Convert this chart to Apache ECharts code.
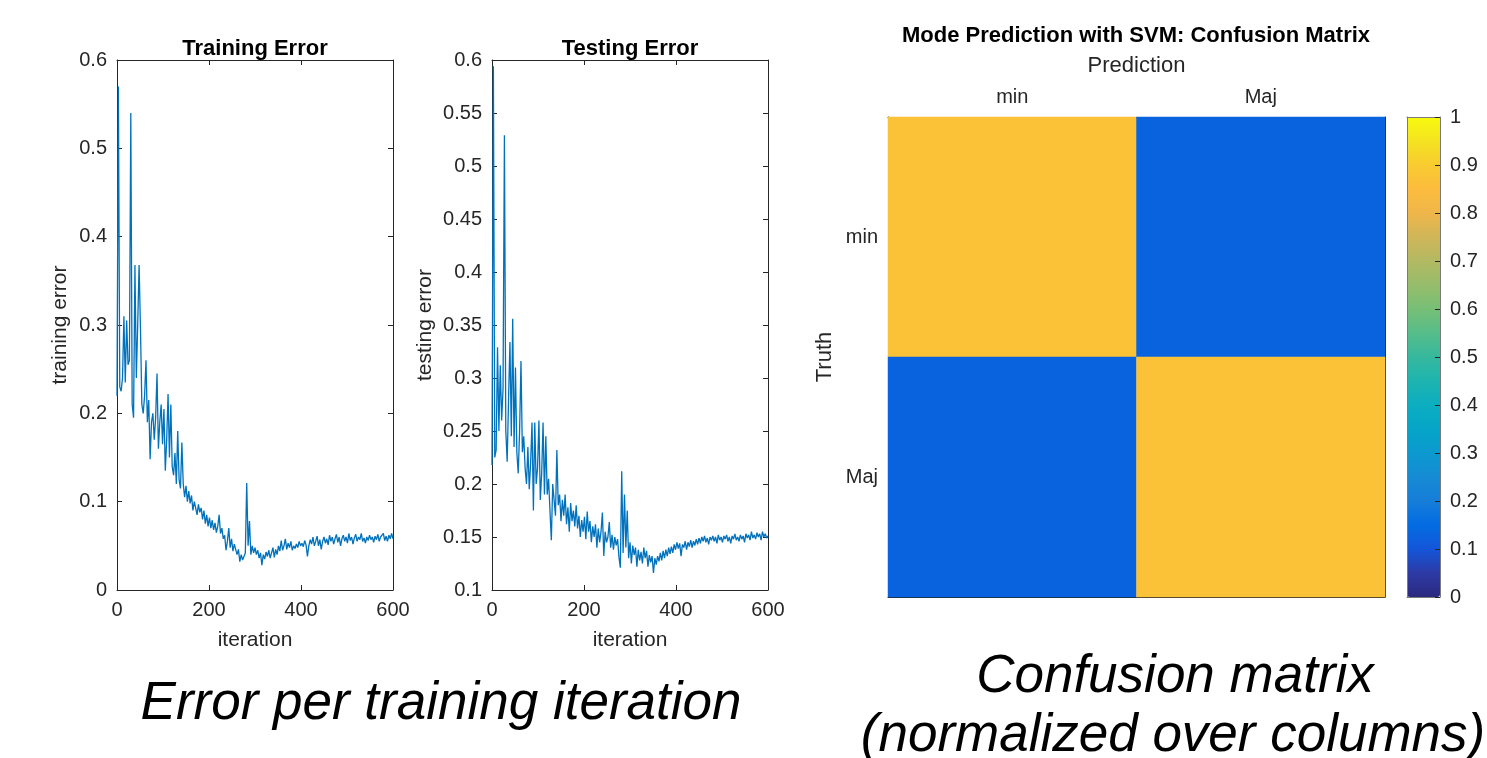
<!DOCTYPE html>
<html>
<head>
<meta charset="utf-8">
<title>SVM mode prediction</title>
<script src="https://cdn.jsdelivr.net/npm/echarts@6/dist/echarts.min.js"></script>
<style>
html, body { margin: 0; padding: 0; background: #fff; }
#main { width: 1487px; height: 758px; }
</style>
</head>
<body>
<div id="main"></div>
<script>
// one sample every 3 iterations, 0..600
var iterStep = 3;
var iterTicks = [0, 600, 200];           // min, max, interval

var trainErr = [
    0.22, 0.57, 0.23, 0.225, 0.24, 0.31, 0.235, 0.305, 0.255, 0.26,
    0.54, 0.21, 0.195, 0.368, 0.24, 0.30, 0.368, 0.297, 0.21, 0.20,
    0.22, 0.26, 0.19, 0.215, 0.148, 0.19, 0.20, 0.17, 0.195, 0.245,
    0.16, 0.19, 0.21, 0.165, 0.205, 0.135, 0.17, 0.222, 0.15, 0.21,
    0.14, 0.13, 0.155, 0.12, 0.18, 0.125, 0.115, 0.167, 0.12, 0.105,
    0.118, 0.10, 0.112, 0.098, 0.107, 0.09, 0.1, 0.093, 0.085, 0.097,
    0.088, 0.093, 0.08, 0.09, 0.075, 0.085, 0.072, 0.082, 0.07, 0.079,
    0.068, 0.076, 0.065, 0.072, 0.085, 0.064, 0.07, 0.058, 0.062, 0.045,
    0.055, 0.07, 0.048, 0.058, 0.044, 0.052, 0.05, 0.04, 0.046, 0.032,
    0.04, 0.034, 0.038, 0.042, 0.121, 0.05, 0.078, 0.04, 0.05, 0.042,
    0.048, 0.04, 0.045, 0.036, 0.042, 0.028, 0.04, 0.035, 0.043, 0.038,
    0.045, 0.036, 0.042, 0.048, 0.037, 0.046, 0.04, 0.05, 0.044, 0.056,
    0.045, 0.05, 0.058, 0.046, 0.053, 0.048, 0.055, 0.045, 0.05, 0.047,
    0.052, 0.048, 0.055, 0.05, 0.053, 0.049, 0.056, 0.051, 0.038, 0.05,
    0.057, 0.052, 0.06, 0.05, 0.055, 0.061, 0.05, 0.057, 0.046, 0.055,
    0.06, 0.053, 0.058, 0.051, 0.062, 0.055, 0.06, 0.052, 0.058, 0.063,
    0.054, 0.06, 0.05, 0.058, 0.062, 0.055, 0.06, 0.053, 0.064, 0.056,
    0.06, 0.052, 0.059, 0.063, 0.055, 0.06, 0.057, 0.064, 0.055, 0.059,
    0.053, 0.06, 0.056, 0.062, 0.057, 0.06, 0.054, 0.061, 0.057, 0.063,
    0.055, 0.06, 0.058, 0.064, 0.056, 0.061, 0.055, 0.062, 0.058, 0.064,
    0.058
];
var trainTicks = [0, 0.6, 0.1];

var testErr = [
    0.218, 0.594, 0.225, 0.232, 0.329, 0.25, 0.312, 0.26, 0.29, 0.529,
    0.25, 0.221, 0.28, 0.334, 0.245, 0.356, 0.235, 0.31, 0.23, 0.21,
    0.25, 0.316, 0.23, 0.245, 0.215, 0.2, 0.235, 0.195, 0.22, 0.258,
    0.175, 0.258, 0.2, 0.215, 0.26, 0.185, 0.21, 0.258, 0.19, 0.245,
    0.19, 0.205, 0.175, 0.147, 0.2, 0.185, 0.17, 0.232, 0.18, 0.19,
    0.165, 0.185, 0.17, 0.19, 0.162, 0.178, 0.155, 0.182, 0.165, 0.175,
    0.16, 0.18, 0.158, 0.17, 0.15, 0.166, 0.155, 0.169, 0.148, 0.174,
    0.155, 0.165, 0.145, 0.16, 0.15, 0.162, 0.14, 0.158, 0.145, 0.155,
    0.173, 0.132, 0.155, 0.145, 0.15, 0.164, 0.14, 0.152, 0.138, 0.15,
    0.142, 0.148, 0.131, 0.121, 0.212, 0.135, 0.19, 0.14, 0.175, 0.13,
    0.145, 0.125, 0.142, 0.133, 0.14, 0.122, 0.138, 0.128, 0.136, 0.125,
    0.14, 0.13, 0.137, 0.122, 0.133, 0.126, 0.132, 0.116, 0.13, 0.124,
    0.132, 0.127, 0.135, 0.128, 0.137, 0.13, 0.138, 0.132, 0.14, 0.134,
    0.141, 0.135, 0.143, 0.138, 0.145, 0.139, 0.144, 0.132, 0.143, 0.14,
    0.146, 0.138, 0.145, 0.141, 0.147, 0.14, 0.146, 0.142, 0.148, 0.143,
    0.149, 0.144, 0.15, 0.146, 0.151, 0.145, 0.149, 0.143, 0.15, 0.147,
    0.151, 0.146, 0.15, 0.144, 0.152, 0.147, 0.15, 0.145, 0.151, 0.148,
    0.152, 0.146, 0.15, 0.144, 0.151, 0.148, 0.153, 0.147, 0.15, 0.146,
    0.152, 0.148, 0.151, 0.145, 0.153, 0.149, 0.152, 0.147, 0.155, 0.149,
    0.152, 0.148, 0.154, 0.15, 0.153, 0.147, 0.155, 0.15, 0.153, 0.149,
    0.151
];
var testTicks = [0.1, 0.6, 0.05];

// confusion matrix, rows = truth, columns = prediction (normalized over columns)
var classes = ['min', 'Maj'];
var confusion = [
    [0.87, 0.13],
    [0.13, 0.87]
];
var colorbarTicks = [0, 1, 0.1];

// parula-like colour stops, evenly spaced 0..1
var parula = [
    '#2c2a7e', '#2d3aa6', '#1456d9', '#036ce2', '#167dd8', '#168bd4',
    '#0c99cf', '#05a5c8', '#0caec0', '#1eb4b0', '#36b89e', '#56bd8a',
    '#77bf76', '#96bd6b', '#b3b963', '#d0b659', '#efb64a', '#fcbc3d',
    '#f9cb30', '#f4e321', '#f8fa0d'
];

var FONT = "'Liberation Sans', Arial, Helvetica, sans-serif";
var INK = '#262626';
var LINE = '#0072BD';

function toPairs(vals) {
    var out = [];
    for (var i = 0; i < vals.length; i++) {
        out.push([i * iterStep, vals[i]]);
    }
    return out;
}

function roundLabel(v) {
    return String(+v.toFixed(2));
}

function valAxis(grid, pos, t, labels, extra) {
    var a = {
        type: 'value',
        gridIndex: grid,
        position: pos,
        min: t[0],
        max: t[1],
        interval: t[2],
        splitLine: { show: false },
        axisLine: { show: true, onZero: false, lineStyle: { color: INK, width: 1 } },
        axisTick: { show: true, inside: true, length: 5, lineStyle: { color: INK } },
        axisLabel: {
            show: labels,
            formatter: roundLabel,
            color: INK,
            fontFamily: FONT,
            fontSize: 20,
            margin: 10
        }
    };
    for (var k in extra) a[k] = extra[k];
    return a;
}

function catAxis(grid, pos, labels, extra) {
    var a = {
        type: 'category',
        gridIndex: grid,
        position: pos,
        data: classes,
        boundaryGap: true,
        splitLine: { show: false },
        axisLine: { show: true, lineStyle: { color: INK, width: 1 } },
        axisTick: { show: true, inside: true, alignWithLabel: true, length: 5, lineStyle: { color: INK } },
        axisLabel: { show: labels, color: INK, fontFamily: FONT, fontSize: 20, margin: 10 }
    };
    for (var k in extra) a[k] = extra[k];
    return a;
}

function nameStyle(size) {
    return { color: INK, fontFamily: FONT, fontSize: size };
}

function errLine(name, xi, yi, vals) {
    return {
        name: name,
        type: 'line',
        xAxisIndex: xi,
        yAxisIndex: yi,
        data: toPairs(vals),
        showSymbol: false,
        lineStyle: { color: LINE, width: 1.3 },
        itemStyle: { color: LINE }
    };
}

var heatData = [];
for (var r = 0; r < confusion.length; r++) {
    for (var c = 0; c < confusion[r].length; c++) {
        heatData.push([c, r, confusion[r][c]]);
    }
}

var chart = echarts.init(document.getElementById('main'), null, { renderer: 'canvas' });

var option = {
    animation: false,
    backgroundColor: '#ffffff',
    grid: [
        { left: 117, top: 60, width: 276, height: 530, outerBoundsMode: 'none' },
        { left: 492, top: 60, width: 276, height: 530, outerBoundsMode: 'none' },
        { left: 888, top: 117, width: 497, height: 480, outerBoundsMode: 'none' },
        { left: 1407, top: 117, width: 33, height: 480, outerBoundsMode: 'none' }
    ],
    xAxis: [
        valAxis(0, 'bottom', iterTicks, true, {
            name: 'iteration', nameLocation: 'middle', nameGap: 40, nameTextStyle: nameStyle(21)
        }),
        valAxis(0, 'top', iterTicks, false),
        valAxis(1, 'bottom', iterTicks, true, {
            name: 'iteration', nameLocation: 'middle', nameGap: 40, nameTextStyle: nameStyle(21)
        }),
        valAxis(1, 'top', iterTicks, false),
        catAxis(2, 'top', true, {
            name: 'Prediction', nameLocation: 'middle', nameGap: 40, nameTextStyle: nameStyle(22)
        }),
        catAxis(2, 'bottom', false),
        valAxis(3, 'bottom', colorbarTicks, false, { axisTick: { show: false }, z: 10,
            axisLine: { show: true, onZero: false, lineStyle: { color: '#7a7a7a' } } }),
        valAxis(3, 'top', colorbarTicks, false, { axisTick: { show: false }, z: 10,
            axisLine: { show: true, onZero: false, lineStyle: { color: '#7a7a7a' } } })
    ],
    yAxis: [
        valAxis(0, 'left', trainTicks, true, {
            name: 'training error', nameLocation: 'middle', nameGap: 46, nameTextStyle: nameStyle(21)
        }),
        valAxis(0, 'right', trainTicks, false),
        valAxis(1, 'left', testTicks, true, {
            name: 'testing error', nameLocation: 'middle', nameGap: 56, nameTextStyle: nameStyle(21)
        }),
        valAxis(1, 'right', testTicks, false),
        catAxis(2, 'left', true, {
            inverse: true, name: 'Truth', nameLocation: 'middle', nameGap: 52, nameTextStyle: nameStyle(22)
        }),
        catAxis(2, 'right', false, { inverse: true }),
        valAxis(3, 'right', colorbarTicks, true, { z: 10,
            axisLine: { show: true, onZero: false, lineStyle: { color: '#7a7a7a' } },
            axisTick: { show: true, inside: true, length: 5, lineStyle: { color: INK } } }),
        valAxis(3, 'left', colorbarTicks, false, { axisTick: { show: false }, z: 10,
            axisLine: { show: true, onZero: false, lineStyle: { color: '#7a7a7a' } } })
    ],
    visualMap: {
        type: 'continuous',
        seriesIndex: 2,
        min: 0,
        max: 1,
        orient: 'vertical',
        left: 1407,
        top: 117,
        itemWidth: 33,
        itemHeight: 480,
        padding: 0,
        calculable: false,
        hoverLink: false,
        text: null,
        inRange: { color: parula }
    },
    series: [
        errLine('training error', 0, 0, trainErr),
        errLine('testing error', 2, 2, testErr),
        {
            name: 'confusion',
            type: 'heatmap',
            xAxisIndex: 4,
            yAxisIndex: 4,
            data: heatData,
            label: { show: false }
        }
    ],
    graphic: [
        { type: 'text', x: 255, y: 49, style: { text: 'Training Error', fill: '#000',
            font: 'bold 22px ' + FONT, textAlign: 'center', textVerticalAlign: 'middle' } },
        { type: 'text', x: 630, y: 49, style: { text: 'Testing Error', fill: '#000',
            font: 'bold 22px ' + FONT, textAlign: 'center', textVerticalAlign: 'middle' } },
        { type: 'text', x: 1136, y: 36, style: { text: 'Mode Prediction with SVM: Confusion Matrix', fill: '#000',
            font: 'bold 22px ' + FONT, textAlign: 'center', textVerticalAlign: 'middle' } },
        { type: 'text', x: 441, y: 704, style: { text: 'Error per training iteration', fill: '#000',
            font: 'italic 53px ' + FONT, textAlign: 'center', textVerticalAlign: 'middle' } },
        { type: 'text', x: 1175, y: 677, style: { text: 'Confusion matrix', fill: '#000',
            font: 'italic 53px ' + FONT, textAlign: 'center', textVerticalAlign: 'middle' } },
        { type: 'text', x: 1173, y: 736, style: { text: '(normalized over columns)', fill: '#000',
            font: 'italic 53px ' + FONT, textAlign: 'center', textVerticalAlign: 'middle' } }
    ]
};

chart.setOption(option);
</script>
</body>
</html>
